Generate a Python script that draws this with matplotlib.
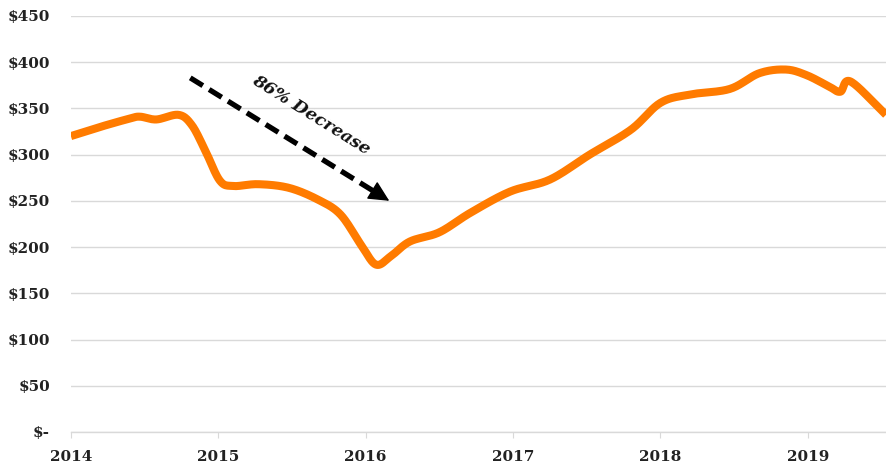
import matplotlib.pyplot as plt
import numpy as np

# price (USD)
years = [2014.00, 2014.20, 2014.40, 2014.47, 2014.58, 2014.73, 2014.82, 2014.91,
         2015.01, 2015.10, 2015.27, 2015.48, 2015.68, 2015.83, 2015.97, 2016.07,
         2016.17, 2016.30, 2016.50, 2016.71, 2016.98, 2017.25, 2017.52, 2017.80,
         2018.00, 2018.20, 2018.47, 2018.67, 2018.85, 2018.99, 2019.14, 2019.22,
         2019.29, 2019.53]
price = [320, 330, 339, 341, 338, 343, 332, 305,
         272, 266, 268, 264, 251, 235, 202, 181,
         190, 206, 216, 237, 260, 273, 300, 327,
         356, 365, 371, 388, 392, 386, 374, 368,
         379, 343]

year_ticks = [2014, 2015, 2016, 2017, 2018, 2019]
y_ticks = [0, 50, 100, 150, 200, 250, 300, 350, 400, 450]


def smooth(x, y, n=20):
    # catmull-rom curve through the points, like excel's smoothed line
    x = np.asarray(x, float)
    y = np.asarray(y, float)
    px = np.concatenate([[2 * x[0] - x[1]], x, [2 * x[-1] - x[-2]]])
    py = np.concatenate([[2 * y[0] - y[1]], y, [2 * y[-1] - y[-2]]])
    xs, ys = [], []
    t = np.linspace(0, 1, n, endpoint=False)
    for i in range(1, len(px) - 2):
        for p, out in ((px, xs), (py, ys)):
            p0, p1, p2, p3 = p[i - 1], p[i], p[i + 1], p[i + 2]
            out.extend(0.5 * ((2 * p1) + (-p0 + p2) * t
                              + (2 * p0 - 5 * p1 + 4 * p2 - p3) * t ** 2
                              + (-p0 + 3 * p1 - 3 * p2 + p3) * t ** 3))
    xs.append(x[-1])
    ys.append(y[-1])
    return np.array(xs), np.array(ys)


fig = plt.figure(figsize=(8.86, 4.68), dpi=100)
ax = fig.add_axes([0.080, 0.077, 0.92, 0.889])

sx, sy = smooth(years, price)
ax.plot(sx, sy, color='#FF7B00', linewidth=5.8, solid_capstyle='butt',
        solid_joinstyle='round', zorder=3)

ax.set_xlim(2014, 2019.53)
ax.set_ylim(0, 450)
ax.set_yticks(y_ticks)
ax.set_yticklabels(['$-' if v == 0 else f'${v}' for v in y_ticks])
ax.set_xticks(year_ticks)
ax.set_xticklabels([str(y) for y in year_ticks])

ax.grid(axis='y', color='#d9d9d9', linewidth=1)
ax.set_axisbelow(True)
for s in ['left', 'right', 'top']:
    ax.spines[s].set_visible(False)
ax.spines['bottom'].set_color('#d9d9d9')
ax.spines['bottom'].set_linewidth(1)
ax.tick_params(axis='y', length=0, pad=15)
ax.tick_params(axis='x', length=4, color='#d9d9d9', pad=9)
for lab in ax.get_xticklabels() + ax.get_yticklabels():
    lab.set_fontfamily('DejaVu Serif')
    lab.set_fontweight('bold')
    lab.set_fontsize(11)
    lab.set_color('#222222')

# dashed arrow: dashed shaft + solid filled head
a0 = (2014.81, 383)
a1 = (2016.16, 250)
k = 0.93
mid = (a0[0] + k * (a1[0] - a0[0]), a0[1] + k * (a1[1] - a0[1]))
ax.plot([a0[0], mid[0]], [a0[1], mid[1]], color='black', lw=3.8,
        linestyle=(0, (2.8, 1.4)), solid_capstyle='butt', zorder=4)
ax.annotate('', xy=a1, xytext=mid,
            arrowprops=dict(arrowstyle='-|>,head_length=0.65,head_width=0.32',
                            mutation_scale=20, color='black', lw=1,
                            shrinkA=0, shrinkB=0),
            zorder=4)
ax.text(2015.63, 343, '86% Decrease', rotation=-32, rotation_mode='anchor',
        ha='center', va='center', fontsize=12.5, fontstyle='italic',
        fontweight='bold', family='DejaVu Serif', color='#111111')

fig.savefig('out.png', dpi=100)
